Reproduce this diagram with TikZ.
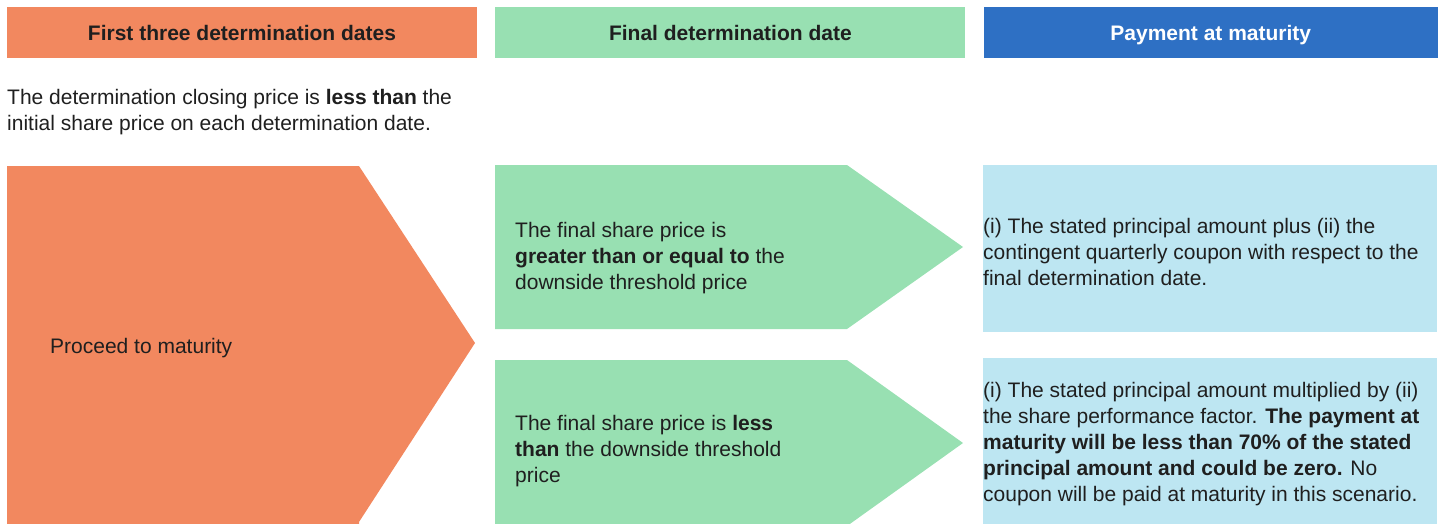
\documentclass[tikz,border=0pt]{standalone}
\usepackage{fontspec}
\setmainfont{Liberation Sans}
\usetikzlibrary{positioning}

\definecolor{salmon}{HTML}{F2885F}
\definecolor{mint}{HTML}{98E0B2}
\definecolor{royal}{HTML}{2E70C4}
\definecolor{paleblue}{HTML}{BDE6F2}
\definecolor{ink}{HTML}{1F1F1F}

\begin{document}
\begin{tikzpicture}[x=1pt, y=-1pt,
    every node/.style={font=\fontsize{21}{26}\selectfont, text=ink},
    bar/.style={minimum width=470pt, minimum height=51pt, inner sep=0pt,
        text height=17pt, text depth=2pt,
        font=\fontsize{21}{26}\selectfont\bfseries},
    body/.style={anchor=west, align=left, inner sep=0pt}]
    \useasboundingbox (0,0) rectangle (1452,523);
    \clip (0,0) rectangle (1452,523);

    % Headers
    \node[bar, fill=salmon] (hdrFirst) at (242,32.5) {First three determination dates};
    \node[bar, fill=mint, right=18pt of hdrFirst] (hdrFinal) {Final determination date};
    \node[bar, fill=royal, text=white, minimum width=454pt, right=18pt of hdrFinal] (hdrPay) {Payment at maturity};

    % Condition
    \node[body] (intro) at (7,112.5) {The determination closing price is \textbf{less than} the\\
        initial share price on each determination date.};

    % Orange arrow
    \fill[salmon] (7,166) -- (359,166) -- (475,343) -- (359,522) -- (359,530) -- (7,530) -- cycle;
    \node[body] (proceed) at (50,348) {Proceed to maturity};

    % Green arrows
    \fill[mint] (495,165) -- (847,165) -- (963,247) -- (847,329) -- (495,329) -- cycle;
    \fill[mint] (495,360) -- (847,360) -- (963,443) -- (847,526) -- (495,526) -- cycle;
    \node[body] (above) at (515,258.5) {The final share price is\\
        \textbf{greater than or equal to} the\\
        downside threshold price};
    \node[body] (below) at (515,451.5) {The final share price is \textbf{less}\\
        \textbf{than} the downside threshold\\
        price};

    % Payment boxes
    \fill[paleblue] (983,165) rectangle (1437,332);
    \fill[paleblue] (983,358) rectangle (1437,530);
    \node[body] (payAbove) at (983,251.5) {(i) The stated principal amount plus (ii) the\\
        contingent quarterly coupon with respect to the\\
        final determination date.};
    \node[body] (payBelow) at (983,444.5) {(i) The stated principal amount multiplied by (ii)\\
        the share performance factor. \textbf{The payment at}\\
        \textbf{maturity will be less than 70\% of the stated}\\
        \textbf{principal amount and could be zero.} No\\
        coupon will be paid at maturity in this scenario.};

\end{tikzpicture}
\end{document}
